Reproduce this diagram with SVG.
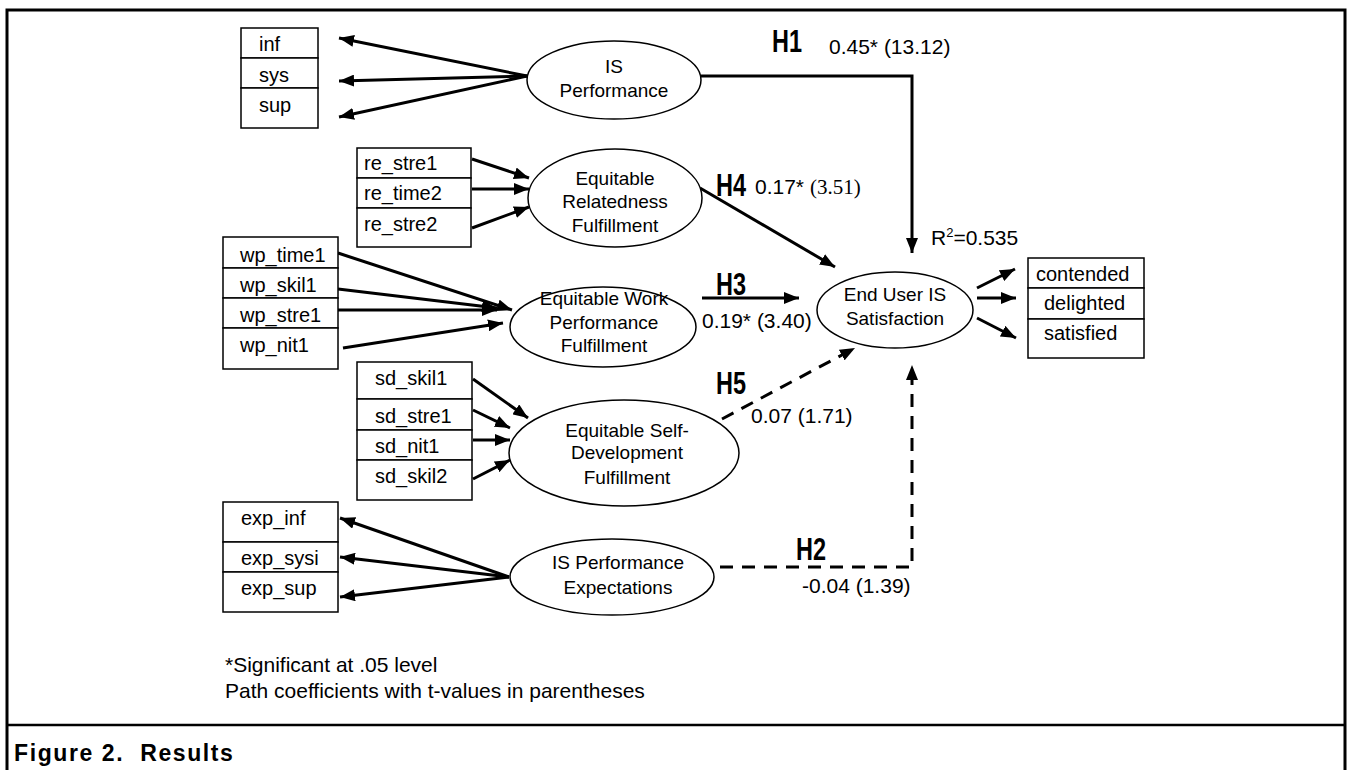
<svg xmlns="http://www.w3.org/2000/svg" width="1352" height="770" viewBox="0 0 1352 770">
<style>
.box{fill:#fff;stroke:#000;stroke-width:1.5}
.ell{fill:#fff;stroke:#000;stroke-width:1.5}
.bl{font-family:"Liberation Sans",Arial,sans-serif;font-size:20px;fill:#000}
.nl{font-family:"Liberation Sans",Arial,sans-serif;font-size:19px;fill:#000;text-anchor:middle}
.cf{font-family:"Liberation Sans",Arial,sans-serif;font-size:21px;fill:#000}
.hl{font-family:"Liberation Sans",Arial,sans-serif;font-size:32px;font-weight:bold;fill:#000}
.ar{fill:none;stroke:#000;stroke-width:3;marker-end:url(#ah)}
.da{fill:none;stroke:#000;stroke-width:3;stroke-dasharray:13 9;marker-end:url(#ah)}
.frame{fill:none;stroke:#000;stroke-width:3}
</style>
<defs>
<marker id="ah" markerUnits="userSpaceOnUse" markerWidth="16" markerHeight="12" refX="15" refY="6" orient="auto">
<path d="M0,0 L15,6 L0,12 z" fill="#000"/>
</marker>
</defs>
<rect x="0" y="0" width="1352" height="770" fill="#fff"/>
<g id="frame">
<path class="frame" d="M7,770 V10 H1345 V770"/>
<line x1="7" y1="725" x2="1345" y2="725" stroke="#000" stroke-width="2.5"/>
<text x="14" y="761" font-family="'Liberation Sans',Arial,sans-serif" font-size="23" font-weight="bold" letter-spacing="1.6">Figure 2.&#160; Results</text>
</g>
<g id="connectors">
<line class="ar" x1="527" y1="76" x2="339" y2="38"/>
<line class="ar" x1="527" y1="76" x2="339" y2="81"/>
<line class="ar" x1="527" y1="76" x2="339" y2="117"/>
<line class="ar" x1="472" y1="159" x2="529" y2="178"/>
<line class="ar" x1="472" y1="189" x2="529" y2="189"/>
<line class="ar" x1="472" y1="228" x2="529" y2="207"/>
<line class="ar" x1="338" y1="253" x2="512" y2="310"/>
<line class="ar" x1="338" y1="289" x2="497" y2="308"/>
<line class="ar" x1="338" y1="310" x2="497" y2="310"/>
<line class="ar" x1="343" y1="348" x2="503" y2="323"/>
<line class="ar" x1="473" y1="379" x2="528" y2="418"/>
<line class="ar" x1="473" y1="410" x2="510" y2="428"/>
<line class="ar" x1="473" y1="440" x2="510" y2="440"/>
<line class="ar" x1="473" y1="479" x2="510" y2="460"/>
<line class="ar" x1="509" y1="577" x2="340" y2="518"/>
<line class="ar" x1="509" y1="577" x2="340" y2="557"/>
<line class="ar" x1="509" y1="577" x2="340" y2="597"/>
<path class="ar" d="M701,76 H912 V253"/>
<line class="ar" x1="700" y1="188" x2="835" y2="267"/>
<line class="ar" x1="702" y1="298" x2="799" y2="298"/>
<line class="da" x1="722" y1="419" x2="855" y2="348"/>
<path class="da" d="M720,567 H912 V365"/>
<line class="ar" x1="977" y1="288" x2="1015" y2="269"/>
<line class="ar" x1="977" y1="298" x2="1016" y2="298"/>
<line class="ar" x1="977" y1="318" x2="1016" y2="338"/>
</g>
<g id="n-isperf">
<ellipse class="ell" cx="614" cy="80" rx="87" ry="39"/>
<text class="nl" x="614" y="73">IS</text>
<text class="nl" x="614" y="97">Performance</text>
</g>
<g id="n-isperf-ind">
<rect class="box" x="241" y="28" width="77" height="30"/>
<rect class="box" x="241" y="58" width="77" height="30"/>
<rect class="box" x="241" y="88" width="77" height="40"/>
<text class="bl" x="259" y="51">inf</text>
<text class="bl" x="259" y="82">sys</text>
<text class="bl" x="259" y="112">sup</text>
</g>
<g id="n-related">
<ellipse class="ell" cx="615" cy="198" rx="87" ry="49"/>
<text class="nl" x="615" y="185">Equitable</text>
<text class="nl" x="615" y="208">Relatedness</text>
<text class="nl" x="615" y="232">Fulfillment</text>
</g>
<g id="n-related-ind">
<rect class="box" x="357" y="148" width="114" height="30"/>
<rect class="box" x="357" y="178" width="114" height="30"/>
<rect class="box" x="357" y="208" width="114" height="39"/>
<text class="bl" x="364" y="170">re_stre1</text>
<text class="bl" x="364" y="200">re_time2</text>
<text class="bl" x="364" y="231">re_stre2</text>
</g>
<g id="n-work">
<ellipse class="ell" cx="603" cy="327" rx="93" ry="40"/>
<text class="nl" x="604" y="305">Equitable Work</text>
<text class="nl" x="604" y="329">Performance</text>
<text class="nl" x="604" y="352">Fulfillment</text>
</g>
<g id="n-work-ind">
<rect class="box" x="223" y="237" width="115" height="31"/>
<rect class="box" x="223" y="268" width="115" height="30"/>
<rect class="box" x="223" y="298" width="115" height="30"/>
<rect class="box" x="223" y="328" width="115" height="41"/>
<text class="bl" x="240" y="262">wp_time1</text>
<text class="bl" x="240" y="292">wp_skil1</text>
<text class="bl" x="240" y="322">wp_stre1</text>
<text class="bl" x="240" y="352">wp_nit1</text>
</g>
<g id="n-selfdev">
<ellipse class="ell" cx="624" cy="453" rx="115" ry="53"/>
<text class="nl" x="627" y="437">Equitable Self-</text>
<text class="nl" x="627" y="459">Development</text>
<text class="nl" x="627" y="484">Fulfillment</text>
</g>
<g id="n-selfdev-ind">
<rect class="box" x="357" y="362" width="115" height="37"/>
<rect class="box" x="357" y="399" width="115" height="31"/>
<rect class="box" x="357" y="430" width="115" height="30"/>
<rect class="box" x="357" y="460" width="115" height="40"/>
<text class="bl" x="375" y="385">sd_skil1</text>
<text class="bl" x="375" y="423">sd_stre1</text>
<text class="bl" x="375" y="453">sd_nit1</text>
<text class="bl" x="375" y="483">sd_skil2</text>
</g>
<g id="n-expect">
<ellipse class="ell" cx="612" cy="577" rx="102" ry="38"/>
<text class="nl" x="618" y="569">IS Performance</text>
<text class="nl" x="618" y="594">Expectations</text>
</g>
<g id="n-expect-ind">
<rect class="box" x="223" y="502" width="115" height="40"/>
<rect class="box" x="223" y="542" width="115" height="30"/>
<rect class="box" x="223" y="572" width="115" height="40"/>
<text class="bl" x="241" y="525">exp_inf</text>
<text class="bl" x="241" y="565">exp_sysi</text>
<text class="bl" x="241" y="595">exp_sup</text>
</g>
<g id="n-satisf">
<ellipse class="ell" cx="895" cy="310" rx="78" ry="38"/>
<text class="nl" x="895" y="301">End User IS</text>
<text class="nl" x="895" y="325">Satisfaction</text>
</g>
<g id="n-satisf-ind">
<rect class="box" x="1028" y="258" width="116" height="30"/>
<rect class="box" x="1028" y="288" width="116" height="31"/>
<rect class="box" x="1028" y="319" width="116" height="39"/>
<text class="bl" x="1036" y="281">contended</text>
<text class="bl" x="1044" y="310">delighted</text>
<text class="bl" x="1044" y="340">satisfied</text>
</g>
<g id="labels">
<text class="hl" x="772" y="52" textLength="30" lengthAdjust="spacingAndGlyphs">H1</text>
<text class="cf" x="829" y="54">0.45* (13.12)</text>
<text class="hl" x="716" y="196" textLength="30" lengthAdjust="spacingAndGlyphs">H4</text>
<text class="cf" x="755" y="194">0.17* <tspan font-family="'Liberation Serif','Times New Roman',serif">(3.51)</tspan></text>
<text class="hl" x="716" y="295" textLength="30" lengthAdjust="spacingAndGlyphs">H3</text>
<text class="cf" x="702" y="328">0.19* (3.40)</text>
<text class="hl" x="716" y="394" textLength="30" lengthAdjust="spacingAndGlyphs">H5</text>
<text class="cf" x="751" y="423">0.07 (1.71)</text>
<text class="hl" x="796" y="560" textLength="30" lengthAdjust="spacingAndGlyphs">H2</text>
<text class="cf" x="802" y="593">-0.04 (1.39)</text>
<text class="cf" x="931" y="245">R<tspan font-size="13" dy="-8">2</tspan><tspan dy="8">=0.535</tspan></text>
<text class="cf" x="225" y="672">*Significant at .05 level</text>
<text class="cf" x="225" y="698">Path coefficients with t-values in parentheses</text>
</g>
</svg>
